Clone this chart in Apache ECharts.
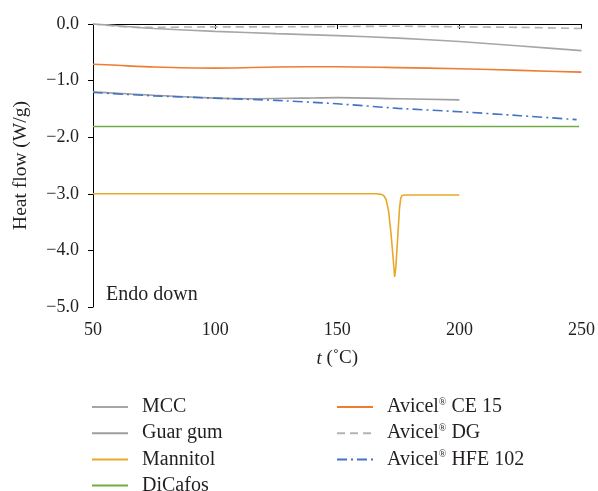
<!DOCTYPE html>
<html>
<head>
<meta charset="utf-8">
<script src="https://cdn.jsdelivr.net/npm/echarts@6/dist/echarts.min.js"></script>
<style>
  html, body { margin: 0; padding: 0; background: #fff; }
  #chart { width: 598px; height: 491px; }
</style>
</head>
<body>
<div id="chart"></div>
<script>
// DSC heat-flow curves, [temperature °C, heat flow W/g]
const mcc = [[50,0.0],[60,-0.03],[75,-0.08],[100,-0.13],[125,-0.17],[150,-0.205],[175,-0.25],[200,-0.31],[225,-0.39],[250,-0.47]];
const guarGum = [[50,-1.20],[75,-1.26],[100,-1.31],[115,-1.32],[135,-1.31],[150,-1.30],[175,-1.32],[200,-1.34]];
const mannitol = [[50,-3.0],[100,-3.0],[150,-3.0],[166,-3.0],[168,-3.01],[169,-3.03],[170,-3.1],[171,-3.3],[172,-3.7],[173,-4.2],[173.5,-4.47],[174,-4.3],[175,-3.6],[175.5,-3.25],[176,-3.08],[176.5,-3.03],[177.5,-3.02],[200,-3.02]];
const diCafos = [[50,-1.81],[100,-1.81],[150,-1.81],[200,-1.81],[249,-1.81]];
const avicelCE15 = [[50,-0.71],[60,-0.73],[75,-0.76],[100,-0.78],[125,-0.76],[150,-0.755],[175,-0.77],[200,-0.79],[225,-0.82],[250,-0.85]];
const avicelDG = [[50,0.0],[60,-0.04],[70,-0.06],[100,-0.05],[125,-0.05],[150,-0.045],[175,-0.04],[200,-0.05],[225,-0.06],[250,-0.08]];
const avicelHFE102 = [[50,-1.21],[75,-1.27],[100,-1.31],[125,-1.35],[150,-1.41],[175,-1.49],[200,-1.55],[225,-1.62],[248,-1.69]];

const seriesNames = ['MCC', 'Guar gum', 'Mannitol', 'DiCafos', 'Avicel® CE 15', 'Avicel® DG', 'Avicel® HFE 102'];
const xTicks = { min: 50, max: 250, interval: 50 };
const yTicks = { min: -5, max: 0, interval: 1 };

const FONT = 'Liberation Serif';
const INK = '#231f20';

function line(name, data, color, type) {
  return {
    name, type: 'line', data, symbol: 'none', smooth: 0.25,
    lineStyle: { color, width: 1.6, type: type || 'solid' },
    itemStyle: { color },
    emphasis: { disabled: true }
  };
}

function legendLabel(name) {
  return name.replace('®', '{sup|®}');
}

// two legend columns; the line swatch only, no marker
const legendCommon = {
  orient: 'vertical',
  height: 120,
  itemWidth: 36,
  itemHeight: 14,
  itemGap: 6.2,
  itemStyle: { opacity: 0 },
  lineStyle: { width: 2 },
  formatter: legendLabel,
  textStyle: {
    fontFamily: FONT, fontSize: 20, color: INK,
    padding: [0, 0, 0, 9],
    rich: { sup: { fontFamily: FONT, fontSize: 10, color: INK, verticalAlign: 'top', padding: [0, 0, 7, 0] } }
  },
  selectedMode: false
};

const chart = echarts.init(document.getElementById('chart'), null, { renderer: 'canvas' });
chart.setOption({
  animation: false,
  backgroundColor: '#fff',
  grid: { left: 93, right: 16, top: 24, bottom: 184, containLabel: false },
  legend: [
    Object.assign({}, legendCommon, { left: 86, top: 392, data: seriesNames.slice(0, 4) }),
    Object.assign({}, legendCommon, { left: 331, top: 392, data: seriesNames.slice(4) })
  ],
  xAxis: {
    type: 'value', min: xTicks.min, max: xTicks.max, interval: xTicks.interval,
    name: '{it|t} (˚C)', nameLocation: 'middle', nameGap: 42,
    nameTextStyle: {
      fontFamily: FONT, fontSize: 19, color: INK,
      rich: { it: { fontFamily: FONT, fontSize: 19, fontStyle: 'italic', color: INK } }
    },
    axisLine: { lineStyle: { color: '#000', width: 1 } },
    axisTick: { show: true, inside: false, length: 5, lineStyle: { color: '#000' } },
    axisLabel: { fontFamily: FONT, fontSize: 18, color: INK, margin: 14 },
    splitLine: { show: false }
  },
  yAxis: {
    type: 'value', min: yTicks.min, max: yTicks.max, interval: yTicks.interval,
    name: 'Heat flow (W/g)', nameLocation: 'middle', nameGap: 62,
    nameTextStyle: { fontFamily: FONT, fontSize: 19.5, color: INK },
    axisLine: { show: true, lineStyle: { color: '#000', width: 1 } },
    axisTick: { show: true, inside: false, length: 5, lineStyle: { color: '#000' } },
    axisLabel: {
      fontFamily: FONT, fontSize: 18, color: INK, margin: 14,
      formatter: v => v.toFixed(1).replace('-', '−')
    },
    splitLine: { show: false }
  },
  graphic: [{
    type: 'text', left: 106, top: 285,
    style: { text: 'Endo down', fontFamily: FONT, fontSize: 20, fill: INK }
  }],
  series: [
    line('Avicel® DG', avicelDG, '#b4b4b4', [8, 5]),
    line('MCC', mcc, '#a6a6a6'),
    line('Avicel® CE 15', avicelCE15, '#ed7d31'),
    line('Guar gum', guarGum, '#9e9e9e'),
    line('Avicel® HFE 102', avicelHFE102, '#4472c4', [10, 4, 2, 4]),
    line('DiCafos', diCafos, '#70ad47'),
    Object.assign(line('Mannitol', mannitol, '#e8a929'), { smooth: false })
  ]
});
</script>
</body>
</html>
